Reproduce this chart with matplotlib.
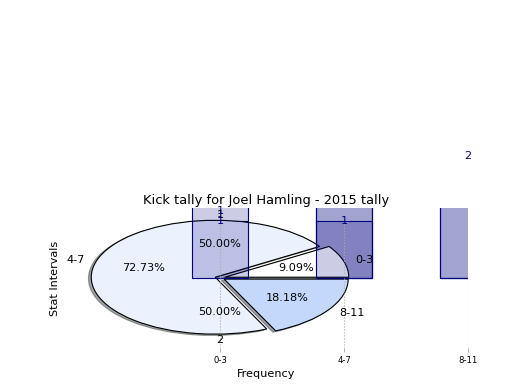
import matplotlib
matplotlib.use('Agg')
import matplotlib.pyplot as plt

# ---- data ----
categories = ['0-3', '4-7', '8-11']
pie_counts = [1, 8, 2]
split_counts = [1, 1]
split_labels = ['1', '2']
base_bars = [1, 1, 2]        # bars under the pie (labelled)
back_bars = [0, 3, 0]        # tall bar under the pie
front_bars = [3, 3, 3]       # bars drawn over the pie
bar_text = ['1', '1', '2']
extra_text = ['1', '', '']

title = 'Kick tally for Joel Hamling - 2015 tally'

# ---- style ----
pie_colors = ['#ffffff', '#ebf1fd', '#c4d8fc']
explode = [0.04, 0.04, 0.04]
bar_face = (0.0, 0.0, 0.5, 0.2)
navy = '#000080'
xpos = list(range(len(categories)))
width = 0.45

fig = plt.figure(figsize=(6.4, 4.8), dpi=81.25)
ax = fig.add_axes([0.125, 0.108, 0.775, 0.359])

ax.bar(xpos, base_bars, width, color=bar_face, edgecolor=navy, linewidth=1, zorder=1)
ax.bar(xpos, back_bars, width, color=bar_face, edgecolor=navy, linewidth=1, zorder=1)

ax.pie(pie_counts, labels=categories, colors=pie_colors, explode=explode,
       autopct='%.2f%%', shadow=True,
       wedgeprops=dict(edgecolor='black', linewidth=1), frame=False)
_, split_txt, _ = ax.pie(split_counts, labels=split_labels, autopct='%.2f%%',
                         wedgeprops=dict(facecolor='none', edgecolor='none'),
                         frame=False)
for t in split_txt:
    t.set_ha('center')

ax.bar(xpos, front_bars, width, color=bar_face, edgecolor=navy, linewidth=1, zorder=2)

for x, v, t in zip(xpos, base_bars, bar_text):
    if v >= 2:
        ax.annotate(t, xy=(x, v), xytext=(0, 3), textcoords='offset points',
                    ha='center', va='bottom', color=navy, annotation_clip=False, zorder=5)
    else:
        ax.annotate(t, xy=(x, v), ha='center', va='center', color=navy, zorder=5)
for x, v, t in zip(xpos, base_bars, extra_text):
    if t:
        ax.annotate(t, xy=(x, v), xytext=(0, 4), textcoords='offset points',
                    ha='center', va='bottom', color=navy, annotation_clip=False, zorder=5)

ax.set_aspect('auto')
ax.set_xticks(xpos)
ax.set_xticklabels(categories, fontsize=7.5)
ax.set_xlim(-1.25, 2.0)
ax.set_ylim(-1.23, 1.23)
ax.tick_params(axis='x', colors='#aaaaaa', labelcolor='black')
ax.xaxis.grid(True, linestyle=':', color='#aaaaaa', linewidth=1, zorder=4)
ax.set_axisbelow(False)

ax.set_title(title, fontsize=11.5, pad=3.5)
ax.set_xlabel('Frequency')
ax.set_ylabel('Stat Intervals')

fig.savefig('out.png', dpi=81.25)
